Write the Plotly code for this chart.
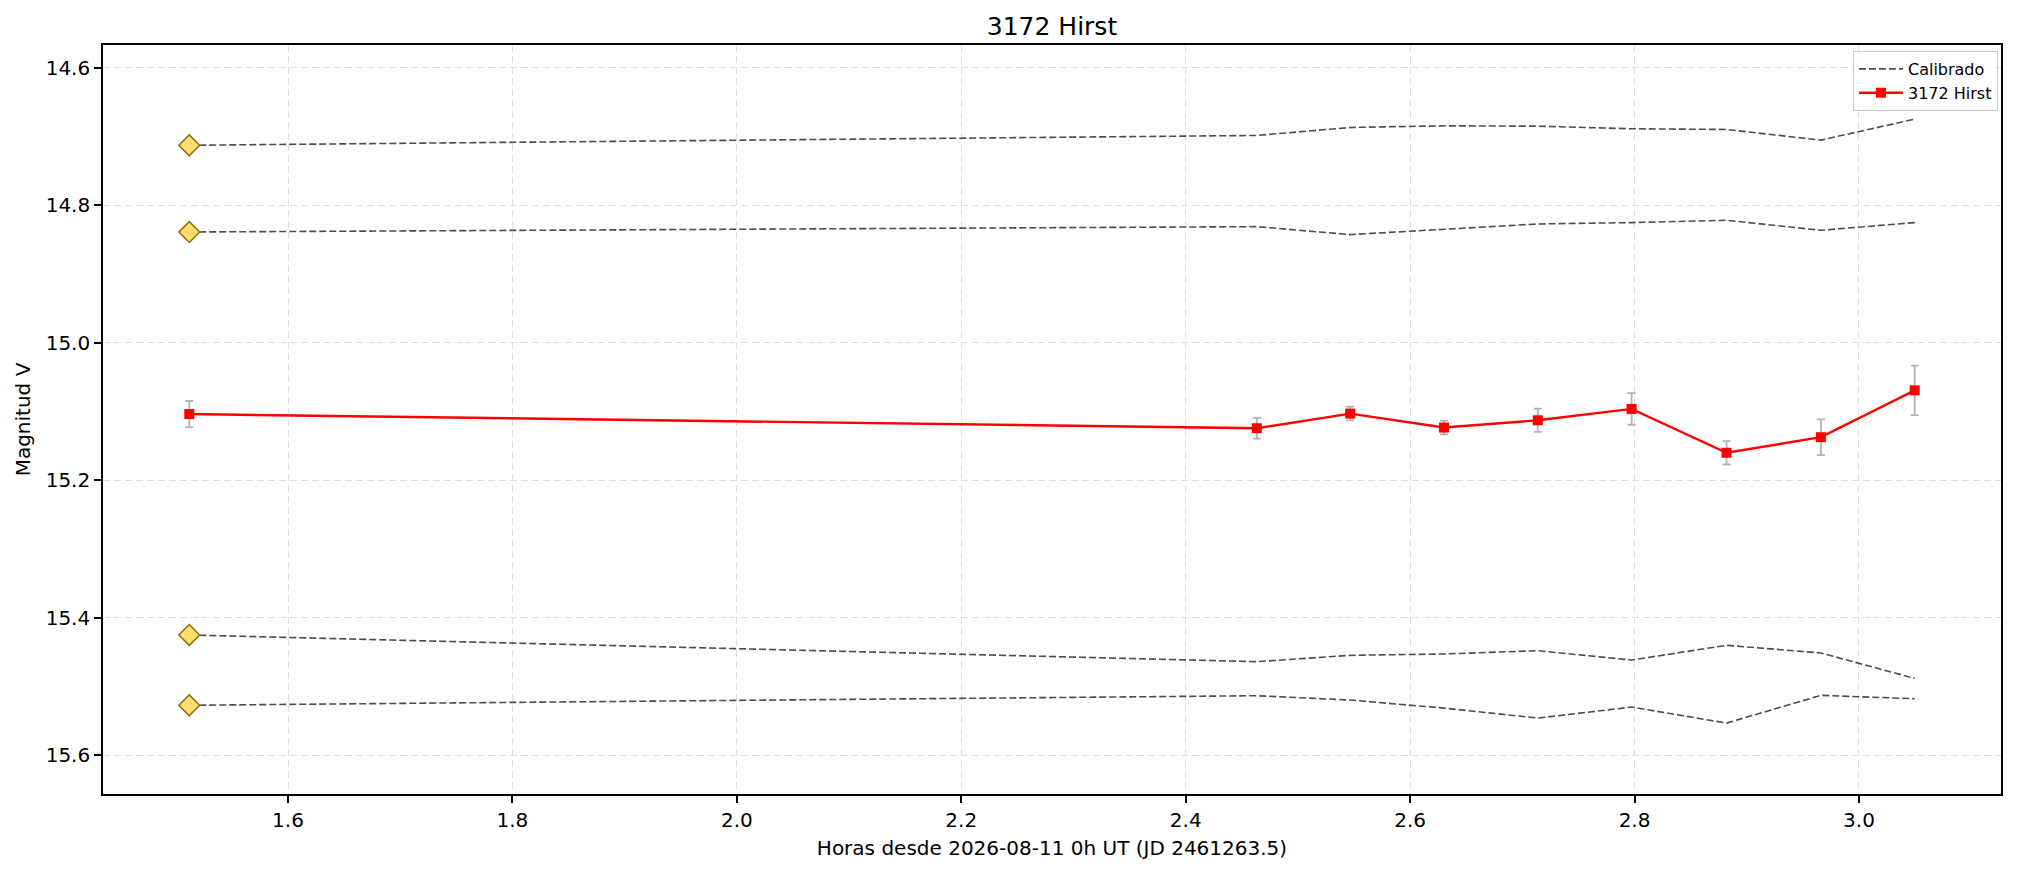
import plotly.graph_objects as go

# Hours since 2026-08-11 0h UT
hours = [1.512, 2.4634, 2.5466, 2.6302, 2.7138, 2.7974, 2.8820, 2.9661, 3.0497]

# Target asteroid magnitudes and errors
target_name = "3172 Hirst"
target_mag = [15.1036, 15.1242, 15.1029, 15.1232, 15.1126, 15.0961, 15.1599, 15.1372, 15.0691]
target_err = [0.019, 0.015, 0.010, 0.010, 0.017, 0.023, 0.017, 0.026, 0.036]

# Calibrated comparison stars
comp_a = [14.7128, 14.6985, 14.6869, 14.6845, 14.6850, 14.6888, 14.6898, 14.7053, 14.6748]
comp_b = [14.8389, 14.8311, 14.8427, 14.8354, 14.8272, 14.8252, 14.8218, 14.8364, 14.8252]
comp_c = [15.4248, 15.4636, 15.4544, 15.4524, 15.4476, 15.4612, 15.4398, 15.4510, 15.4879]
comp_d = [15.5270, 15.5131, 15.5194, 15.5311, 15.5456, 15.5296, 15.5529, 15.5126, 15.5175]

# Catalogue reference magnitudes of the comparison stars (diamonds)
ref_mags = [14.7128, 14.8389, 15.4248, 15.5270]

x_ticks = [1.6, 1.8, 2.0, 2.2, 2.4, 2.6, 2.8, 3.0]
y_ticks = [14.6, 14.8, 15.0, 15.2, 15.4, 15.6]

FONT = "DejaVu Sans"
# the page body adds an 8px offset, margins below compensate for it


def main():
    fig = go.Figure()

    # dashed calibrated curves
    for i, mags in enumerate([comp_a, comp_b, comp_c, comp_d]):
        fig.add_trace(go.Scatter(
            x=hours, y=mags, mode='lines', name='Calibrado',
            legendgroup='cal', showlegend=(i == 0),
            line=dict(color='rgba(0,0,0,0.7)', width=1.6, dash='7px,3px'),
        ))

    # reference diamonds at first epoch
    fig.add_trace(go.Scatter(
        x=[hours[0]] * len(ref_mags), y=ref_mags, mode='markers',
        showlegend=False,
        marker=dict(symbol='diamond', size=16, color='#ffdf6b',
                    line=dict(color='#8b6d10', width=1.5)),
    ))

    # target light curve
    fig.add_trace(go.Scatter(
        x=hours, y=target_mag, mode='lines+markers', name=target_name,
        line=dict(color='#ff0000', width=2.4),
        marker=dict(symbol='square', size=10, color='#ff0000'),
        error_y=dict(type='data', array=target_err, visible=True,
                     color='#b3b3b3', thickness=1.8, width=4),
    ))

    # matplotlib-like 5% x margins
    span = max(hours) - min(hours)
    x_range = [min(hours) - 0.05 * span, max(hours) + 0.05 * span]

    axis_common = dict(
        showline=True, linecolor='black', linewidth=1.6, mirror=True,
        ticks='outside', ticklen=7, tickwidth=1.6, tickcolor='black',
        showgrid=True, gridcolor='#dedede', gridwidth=1.4, griddash='7px,4px',
        zeroline=False, tickfont=dict(family=FONT, size=20, color='black'),
    )

    fig.update_layout(
        width=2018, height=873, autosize=False,
        paper_bgcolor='white', plot_bgcolor='white',
        margin=dict(l=95, r=25, t=37, b=87),
        font=dict(family=FONT, color='black'),
        title=dict(text=target_name, x=0.5, xref='paper', xanchor='center',
                   y=1 - 18 / 873, yref='container', yanchor='middle',
                   font=dict(family=FONT, size=25, color='black')),
        xaxis=dict(
            range=x_range, tickmode='array', tickvals=x_ticks,
            ticktext=[f"{v:.1f}" for v in x_ticks],
            title=dict(text='Horas desde 2026-08-11 0h UT (JD 2461263.5)',
                       font=dict(family=FONT, size=20), standoff=10),
            **axis_common,
        ),
        yaxis=dict(
            range=[15.656, 14.567], tickmode='array', tickvals=y_ticks,
            ticktext=[f"{v:.1f}" for v in y_ticks],
            title=dict(text='Magnitud V', font=dict(family=FONT, size=20), standoff=10),
            **axis_common,
        ),
        legend=dict(
            x=0.9984, y=0.992, xanchor='right', yanchor='top',
            bgcolor='rgba(255,255,255,0.8)', bordercolor='#cccccc', borderwidth=1,
            font=dict(family=FONT, size=16, color='black'),
            tracegroupgap=0, itemwidth=44,
        ),
    )

    fig.write_html("out.html")


if __name__ == "__main__":
    main()
